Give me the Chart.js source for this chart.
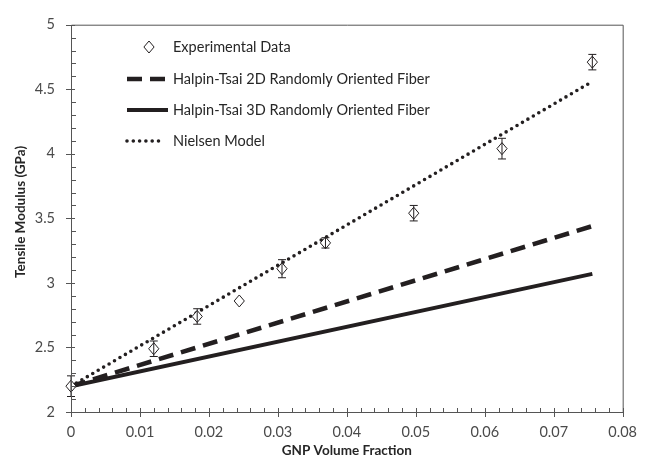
<!DOCTYPE html>
<html>
<head>
<meta charset="utf-8">
<script src="https://cdn.jsdelivr.net/npm/chart.js@4.4.1/dist/chart.umd.min.js"></script>
<style>
  body { margin: 0; background: #fff; }
  #chart { display: block; }
</style>
</head>
<body>
<canvas id="chart" width="649" height="463"></canvas>
<script>
// experimental points
const volFraction = [0, 0.012, 0.0183, 0.0244, 0.0306, 0.0369, 0.0497, 0.0625, 0.0756];
const expModulus = [2.2, 2.49, 2.74, 2.86, 3.11, 3.31, 3.54, 4.04, 4.71];
const expError = [0.08, 0.06, 0.06, 0, 0.07, 0.04, 0.06, 0.08, 0.06];

// model curves
const modelFraction = [0, 0.0756];
const halpin2D = [2.2, 3.44];
const halpin3D = [2.2, 3.07];
const nielsen = [2.2, 4.56];

const seriesNames = [
  "Experimental Data",
  "Halpin-Tsai 2D Randomly Oriented Fiber",
  "Halpin-Tsai 3D Randomly Oriented Fiber",
  "Nielsen Model"
];
const yTitle = "Tensile Modulus (GPa)";

const ink = "#231f20";
const axisColor = "#555";

function pts(xs, ys) {
  return xs.map((x, i) => ({ x: x, y: ys[i] }));
}

function diamond(ctx, x, y, r) {
  ctx.beginPath();
  ctx.moveTo(x, y - r);
  ctx.lineTo(x + r * 0.85, y);
  ctx.lineTo(x, y + r);
  ctx.lineTo(x - r * 0.85, y);
  ctx.closePath();
  ctx.fillStyle = "#fff";
  ctx.fill();
  ctx.lineWidth = 1;
  ctx.strokeStyle = ink;
  ctx.stroke();
}

// error bars + diamonds on top of the lines
const errorBars = {
  id: "errorBars",
  afterDatasetsDraw(chart) {
    const { ctx, scales: { x, y } } = chart;
    ctx.save();
    volFraction.forEach((v, i) => {
      const px = x.getPixelForValue(v);
      const py = y.getPixelForValue(expModulus[i]);
      diamond(ctx, px, py, 6);
      if (!expError[i]) return;
      const top = y.getPixelForValue(expModulus[i] + expError[i]);
      const bot = y.getPixelForValue(expModulus[i] - expError[i]);
      ctx.beginPath();
      ctx.strokeStyle = ink;
      ctx.lineWidth = 1;
      ctx.moveTo(px, top); ctx.lineTo(px, bot);
      ctx.moveTo(px - 4, top); ctx.lineTo(px + 4, top);
      ctx.moveTo(px - 4, bot); ctx.lineTo(px + 4, bot);
      ctx.stroke();
    });
    ctx.restore();
  }
};

// frame, excel-like tick marks and the y title
const frameTicks = {
  id: "frameTicks",
  afterDraw(chart) {
    const { ctx, chartArea: a, scales: { x, y } } = chart;
    ctx.save();
    ctx.strokeStyle = axisColor;
    ctx.lineWidth = 1;
    ctx.beginPath();
    ctx.rect(a.left + 0.5, a.top + 0.5, a.right - a.left, a.bottom - a.top);
    ctx.stroke();
    ctx.beginPath();
    for (let k = 0; k <= 40; k++) {
      const px = Math.round(x.getPixelForValue(k * 0.002)) + 0.5;
      if (k % 5 === 0) { ctx.moveTo(px, a.bottom - 4); ctx.lineTo(px, a.bottom + 5); }
      else { ctx.moveTo(px, a.bottom - 4); ctx.lineTo(px, a.bottom); }
    }
    for (let k = 0; k <= 30; k++) {
      const py = Math.round(y.getPixelForValue(2 + k * 0.1)) + 0.5;
      if (k % 5 === 0) { ctx.moveTo(a.left - 5, py); ctx.lineTo(a.left + 4, py); }
      else { ctx.moveTo(a.left, py); ctx.lineTo(a.left + 5, py); }
    }
    ctx.stroke();

    // y title sits a bit above the middle, like the original
    ctx.translate(21, y.getPixelForValue(3.55));
    ctx.rotate(-Math.PI / 2);
    ctx.font = "bold 13.5px Lato";
    ctx.fillStyle = "#262626";
    ctx.textAlign = "center";
    ctx.textBaseline = "middle";
    ctx.fillText(yTitle, 0, 0);
    ctx.restore();
  }
};

// legend inside the plot area
const insideLegend = {
  id: "insideLegend",
  afterDraw(chart) {
    const ctx = chart.ctx;
    const rows = [47, 79, 110, 141];
    const lineEnd = [0, 165, 168, 163];
    ctx.save();
    chart.data.datasets.forEach((ds, i) => {
      const yy = rows[i];
      if (i === 0) {
        diamond(ctx, 149, yy, 6);
      } else {
        ctx.beginPath();
        ctx.strokeStyle = ds.borderColor;
        ctx.lineWidth = ds.borderWidth;
        ctx.setLineDash(ds.borderDash || []);
        ctx.lineCap = ds.borderCapStyle || "butt";
        ctx.moveTo(127, yy);
        ctx.lineTo(lineEnd[i], yy);
        ctx.stroke();
        ctx.setLineDash([]);
      }
      ctx.font = "14.5px Lato";
      ctx.fillStyle = "#262626";
      ctx.textBaseline = "middle";
      ctx.fillText(ds.label, 173, yy);
    });
    ctx.restore();
  }
};

new Chart(document.getElementById("chart"), {
  type: "scatter",
  data: {
    datasets: [
      {
        label: seriesNames[0],
        data: pts(volFraction, expModulus),
        pointRadius: 0,
        showLine: false
      },
      {
        label: seriesNames[1],
        data: pts(modelFraction, halpin2D),
        showLine: true,
        borderColor: ink,
        borderWidth: 4.5,
        borderDash: [15, 8],
        pointRadius: 0
      },
      {
        label: seriesNames[2],
        data: pts(modelFraction, halpin3D),
        showLine: true,
        borderColor: ink,
        borderWidth: 4,
        pointRadius: 0
      },
      {
        label: seriesNames[3],
        data: pts(modelFraction, nielsen),
        showLine: true,
        borderColor: ink,
        borderWidth: 3.6,
        borderDash: [0, 6.3],
        borderCapStyle: "round",
        pointRadius: 0
      }
    ]
  },
  options: {
    responsive: false,
    animation: false,
    devicePixelRatio: 1,
    layout: { padding: { top: 17, right: 23, left: 0, bottom: 0 } },
    plugins: { legend: { display: false }, tooltip: { enabled: false } },
    scales: {
      x: {
        type: "linear",
        min: 0,
        max: 0.08,
        grid: { display: false, drawTicks: false },
        border: { display: false },
        ticks: {
          stepSize: 0.01,
          padding: 12,
          color: "#4a4a4a",
          font: { family: "Lato", size: 14.5 },
          callback: v => String(Number(v.toFixed(2)))
        },
        title: {
          display: true,
          text: "GNP Volume Fraction",
          color: "#262626",
          font: { family: "Lato", size: 13.5, weight: "bold" },
          padding: { top: 2, bottom: 4 }
        },
        afterFit: s => { s.height = 51; }
      },
      y: {
        min: 2,
        max: 5,
        grid: { display: false, drawTicks: false },
        border: { display: false },
        ticks: {
          stepSize: 0.5,
          padding: 16,
          color: "#4a4a4a",
          font: { family: "Lato", size: 14.5 },
          callback: v => String(Number(v.toFixed(1)))
        },
        title: { display: false },
        afterFit: s => { s.width = 71; }
      }
    }
  },
  plugins: [errorBars, frameTicks, insideLegend]
});
</script>
</body>
</html>
